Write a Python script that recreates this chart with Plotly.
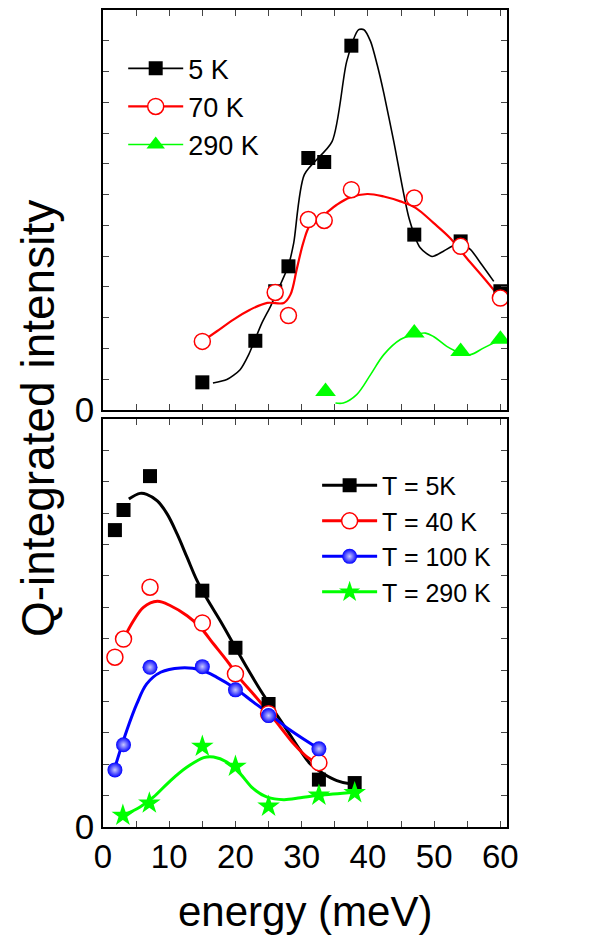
import plotly.graph_objects as go

# ---------------- top panel data ----------------
top_5K_x = [15, 23, 26, 28, 31, 33.4, 37.5, 47, 54, 60]
top_5K_y = [0.90, 2.25, 3.86, 4.67, 8.19, 8.06, 11.84, 5.70, 5.48, 3.86]
top_70K_x = [15, 26, 28, 31, 33.4, 37.5, 47, 54, 60]
top_70K_y = [2.23, 3.82, 3.07, 6.19, 6.16, 7.16, 6.89, 5.32, 3.64]
top_290K_x = [33.6, 47, 54, 60]
top_290K_y = [0.60, 2.50, 1.90, 2.30]

# guide curves
fit_top_5K_x = [16.6, 18.7, 20.7, 22.0, 24.0, 25.3, 26.2, 28.0, 28.8, 30.4, 34.6, 36.8, 38.6, 39.4,
                40.4, 41.4, 42.4, 43.9, 46.2, 47.9, 49.7, 51.4, 52.7, 54.0, 55.5, 57.2, 59.0]
fit_top_5K_y = [0.88, 0.99, 1.31, 1.80, 2.83, 3.37, 3.80, 4.70, 5.43, 7.65, 8.73, 11.33, 12.36, 12.36,
                11.98, 11.22, 10.30, 8.73, 6.24, 5.27, 4.99, 5.16, 5.32, 5.40, 5.21, 4.72, 4.18]
fit_top_70K_x = [15.0, 17.2, 19.7, 22.2, 24.8, 27.3, 28.3, 29.3, 30.3, 31.3, 33.4, 35.3, 37.3, 39.9,
                 42.4, 44.9, 47.2, 49.9, 52.4, 54.9, 57.5, 60.0]
fit_top_70K_y = [2.23, 2.56, 2.94, 3.26, 3.48, 3.48, 3.75, 4.62, 5.48, 6.02, 6.35, 6.67, 6.91, 7.02,
                 6.94, 6.78, 6.57, 6.08, 5.59, 4.94, 4.29, 3.64]
fit_top_290K_x = [35.1, 36.3, 38.3, 40.4, 42.4, 44.9, 47.0, 48.7, 49.9, 51.9, 54.0, 55.5, 57.5, 59.5]
fit_top_290K_y = [0.23, 0.23, 0.50, 1.15, 1.80, 2.29, 2.45, 2.50, 2.39, 2.07, 1.85, 1.80, 2.02, 2.23]

# ---------------- bottom panel data ----------------
bot_x = [1.8, 3.1, 7.1, 15, 20, 25, 32.6, 38]
bot_5K_y = [9.46, 10.10, 11.18, 7.53, 5.71, 3.92, 1.51, 1.40]
bot_40K_x = [1.8, 3.1, 7.1, 15, 20, 25, 32.6]
bot_40K_y = [5.41, 5.99, 7.64, 6.50, 4.88, 3.61, 2.05]
bot_100K_x = [1.8, 3.1, 7.1, 15, 20, 25, 32.6]
bot_100K_y = [1.82, 2.62, 5.09, 5.11, 4.37, 3.55, 2.49]
bot_290K_x = [3.0, 7.0, 15, 20, 25, 32.6, 38]
bot_290K_y = [0.37, 0.76, 2.57, 1.93, 0.66, 1.01, 1.09]

fit_bot_5K_x = [3.9, 5.6, 6.6, 8.2, 9.7, 11.2, 12.7, 14.2, 15.7, 17.7, 19.7, 21.7, 23.8, 25.8, 27.8,
                29.8, 31.3, 33.3, 35.3, 37.3, 38.0]
fit_bot_5K_y = [10.45, 10.63, 10.60, 10.39, 9.97, 9.33, 8.59, 7.85, 7.27, 6.57, 5.83, 5.09, 4.35, 3.71, 3.08,
                2.44, 2.01, 1.70, 1.48, 1.38, 1.40]
fit_bot_40K_x = [3.1, 4.6, 6.1, 8.2, 10.2, 12.7, 14.7, 16.7, 18.7, 20.7, 22.7, 24.8, 26.8, 28.8, 30.8, 32.6]
fit_bot_40K_y = [5.99, 6.57, 7.00, 7.19, 7.05, 6.73, 6.36, 5.83, 5.30, 4.72, 4.24, 3.71, 3.18, 2.65, 2.23, 2.01]
fit_bot_100K_x = [1.8, 3.6, 5.1, 6.6, 8.7, 11.7, 14.7, 17.2, 20.1, 22.7, 25.1, 28.3, 32.6]
fit_bot_100K_y = [1.90, 3.08, 3.92, 4.56, 4.93, 5.07, 5.01, 4.77, 4.40, 3.98, 3.61, 3.08, 2.49]
fit_bot_290K_x = [3.0, 5.6, 7.6, 10.2, 12.7, 15.2, 16.7, 18.7, 20.7, 22.7, 24.8, 27.3, 29.8, 32.6, 38.0]
fit_bot_290K_y = [0.37, 0.64, 0.95, 1.48, 1.91, 2.21, 2.23, 2.07, 1.70, 1.22, 0.95, 0.87, 0.93, 1.01, 1.11]

x_tickvals = list(range(0, 61, 5))
x_ticktext = [str(v) if v % 10 == 0 else "" for v in x_tickvals]
y_tickvals = list(range(0, 14))
y_ticktext = ["0"] + [""] * 13

BLACK = "#000000"
RED = "#ff0000"
BLUE = "#0000ff"
GREEN = "#00ff00"
FONT = "Liberation Sans, Arial, sans-serif"

fig = go.Figure()

def curve(x, y, color, width, xa, ya, smoothing=1.0):
    fig.add_trace(go.Scatter(x=x, y=y, mode="lines",
                             line=dict(color=color, width=width, shape="spline", smoothing=smoothing),
                             xaxis=xa, yaxis=ya, showlegend=False, hoverinfo="skip"))

def pts(x, y, marker, xa, ya):
    fig.add_trace(go.Scatter(x=x, y=y, mode="markers", marker=marker, xaxis=xa, yaxis=ya, showlegend=False))

def leg(name, color, width, marker, legend, xa, ya):
    fig.add_trace(go.Scatter(x=[None], y=[None], mode="lines+markers", name=name,
                             line=dict(color=color, width=width), marker=marker,
                             xaxis=xa, yaxis=ya, legend=legend))

sq = dict(symbol="square", size=14, color=BLACK, line=dict(width=0))
circ = dict(symbol="circle", size=16, color="white", line=dict(color=RED, width=1.5))
tri = dict(symbol="triangle-up", size=18, color=GREEN, line=dict(width=0))
ball = dict(symbol="circle", size=15, color=BLUE, line=dict(width=0),
            gradient=dict(type="radial", color="#c8c8ff"))
star = dict(symbol="star", size=17, color=GREEN, line=dict(width=0))

# top panel
curve(fit_top_5K_x, fit_top_5K_y, BLACK, 1.6, "x", "y", smoothing=0.7)
curve(fit_top_70K_x, fit_top_70K_y, RED, 2.2, "x", "y")
curve(fit_top_290K_x, fit_top_290K_y, GREEN, 1.6, "x", "y")
pts(top_5K_x, top_5K_y, sq, "x", "y")
pts(top_70K_x, top_70K_y, circ, "x", "y")
pts(top_290K_x, top_290K_y, tri, "x", "y")
leg("5 K", BLACK, 1.6, sq, "legend", "x", "y")
leg("70 K", RED, 2.2, circ, "legend", "x", "y")
leg("290 K", GREEN, 1.6, tri, "legend", "x", "y")

# bottom panel
curve(fit_bot_5K_x, fit_bot_5K_y, BLACK, 3, "x2", "y2")
curve(fit_bot_40K_x, fit_bot_40K_y, RED, 3, "x2", "y2")
curve(fit_bot_100K_x, fit_bot_100K_y, BLUE, 3, "x2", "y2")
curve(fit_bot_290K_x, fit_bot_290K_y, GREEN, 3, "x2", "y2")
pts(bot_x, bot_5K_y, sq, "x2", "y2")
pts(bot_40K_x, bot_40K_y, circ, "x2", "y2")
pts(bot_100K_x, bot_100K_y, ball, "x2", "y2")
pts(bot_290K_x, bot_290K_y, star, "x2", "y2")
leg("T = 5K", BLACK, 3, sq, "legend2", "x2", "y2")
leg("T = 40 K", RED, 3, circ, "legend2", "x2", "y2")
leg("T = 100 K", BLUE, 3, ball, "legend2", "x2", "y2")
leg("T = 290 K", GREEN, 3, star, "legend2", "x2", "y2")

xcommon = dict(range=[0, 61], tickvals=x_tickvals, ticktext=x_ticktext, ticks="inside", ticklen=6,
               tickwidth=1.2, showline=True, linewidth=1.5, linecolor="black", mirror="allticks",
               showgrid=False, zeroline=False, tickfont=dict(family=FONT, size=33, color="black"))
ycommon = dict(range=[0, 13], tickvals=y_tickvals, ticktext=y_ticktext, ticks="inside", ticklen=6,
               tickwidth=1.2, showline=True, linewidth=1.5, linecolor="black", mirror="allticks",
               showgrid=False, zeroline=False, tickfont=dict(family=FONT, size=35, color="black"))

top_dom = [(827 - 409) / 819, 1]
bot_dom = [0, (827 - 418) / 819]

fig.update_layout(
    width=592, height=947,
    margin=dict(l=103, r=85, t=8, b=120),
    paper_bgcolor="white", plot_bgcolor="white",
    xaxis=dict(xcommon, anchor="y", showticklabels=False),
    yaxis=dict(ycommon, domain=top_dom, anchor="x"),
    xaxis2=dict(xcommon, anchor="y2"),
    yaxis2=dict(ycommon, domain=bot_dom, anchor="x2"),
    legend=dict(x=0.05, y=0.958, xanchor="left", yanchor="top", bgcolor="rgba(0,0,0,0)",
                font=dict(family=FONT, size=27, color="black"), itemwidth=55, tracegroupgap=0),
    legend2=dict(x=0.53, y=0.446, xanchor="left", yanchor="top", bgcolor="rgba(0,0,0,0)",
                 font=dict(family=FONT, size=25, color="black"), itemwidth=55, tracegroupgap=0),
    showlegend=True,
    annotations=[
        dict(text="energy (meV)", x=0.5, y=-0.104, xref="paper", yref="paper", xanchor="center",
             yanchor="middle", showarrow=False, font=dict(family=FONT, size=42, color="black")),
        dict(text="Q-integrated intensity", x=-0.162, y=0.5, xref="paper", yref="paper", textangle=-90,
             xanchor="center", yanchor="middle", showarrow=False,
             font=dict(family=FONT, size=46, color="black")),
    ],
)

fig.write_html("out.html")
